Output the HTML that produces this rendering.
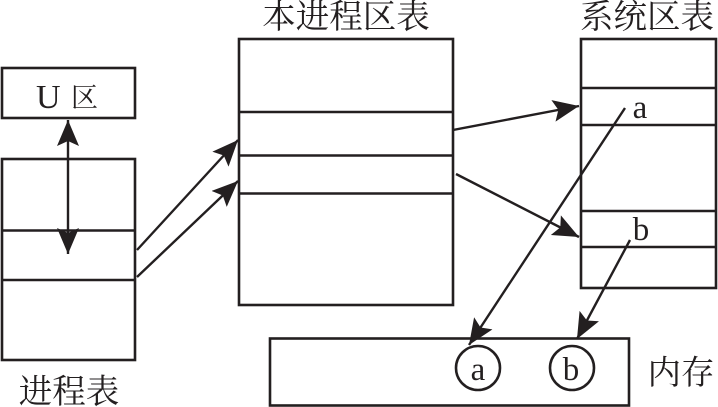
<!DOCTYPE html>
<html>
<head>
<meta charset="utf-8">
<style>
html,body{margin:0;padding:0;background:#fff;}
svg{display:block;}
text{font-family:"Liberation Serif","Noto Serif CJK SC","Noto Serif CJK JP",serif;fill:#231f20;}
.cn{font-size:33.5px;text-anchor:middle;font-weight:400;}
.la{font-size:33px;text-anchor:middle;}
</style>
</head>
<body>
<svg width="718" height="407" viewBox="0 0 718 407" xmlns="http://www.w3.org/2000/svg">
<defs>
<marker id="ah" markerUnits="userSpaceOnUse" markerWidth="30" markerHeight="24" refX="26" refY="11" orient="auto">
<path d="M0 0 L26 11 L0 22 L5 11 Z" fill="#231f20"/>
</marker>
</defs>
<g fill="none" stroke="#231f20" stroke-width="2.6">
<rect x="2" y="68" width="133" height="50"/>
<rect x="2" y="159" width="133" height="201"/>
<path d="M2 230.5H135M2 280H135"/>
<rect x="239" y="39" width="214" height="266"/>
<path d="M239 112H453M239 155.5H453M239 193.5H453"/>
<rect x="581" y="39" width="135" height="249"/>
<path d="M581 88H716M581 125H716M581 211H716M581 247H716"/>
<rect x="270" y="338.5" width="359" height="67"/>
<circle cx="478" cy="368" r="22"/>
<circle cx="572" cy="368" r="22"/>
</g>
<g fill="none" stroke="#231f20" stroke-width="2.4">
<line x1="68" y1="185" x2="68" y2="120" marker-end="url(#ah)"/>
<line x1="68" y1="185" x2="68" y2="254" marker-end="url(#ah)"/>
<line x1="137" y1="250" x2="238" y2="140" marker-end="url(#ah)"/>
<line x1="137" y1="277" x2="238" y2="181" marker-end="url(#ah)"/>
<line x1="453" y1="130" x2="579" y2="106" marker-end="url(#ah)"/>
<line x1="456" y1="174" x2="579" y2="237" marker-end="url(#ah)"/>
<line x1="625" y1="108" x2="469" y2="345" marker-end="url(#ah)"/>
<line x1="630" y1="240" x2="577" y2="339" marker-end="url(#ah)"/>
</g>
<text class="cn" x="346" y="28">本进程区表</text>
<text class="cn" x="647" y="28">系统区表</text>
<text class="cn" x="69" y="403">进程表</text>
<text class="cn" x="681" y="384">内存</text>
<text x="36" y="108" style="font-size:34px">U</text>
<text x="71" y="107" style="font-size:27px">区</text>
<text class="la" x="640" y="118">a</text>
<text class="la" x="641" y="240">b</text>
<text class="la" x="478" y="380">a</text>
<text class="la" x="571" y="380">b</text>
</svg>
</body>
</html>
